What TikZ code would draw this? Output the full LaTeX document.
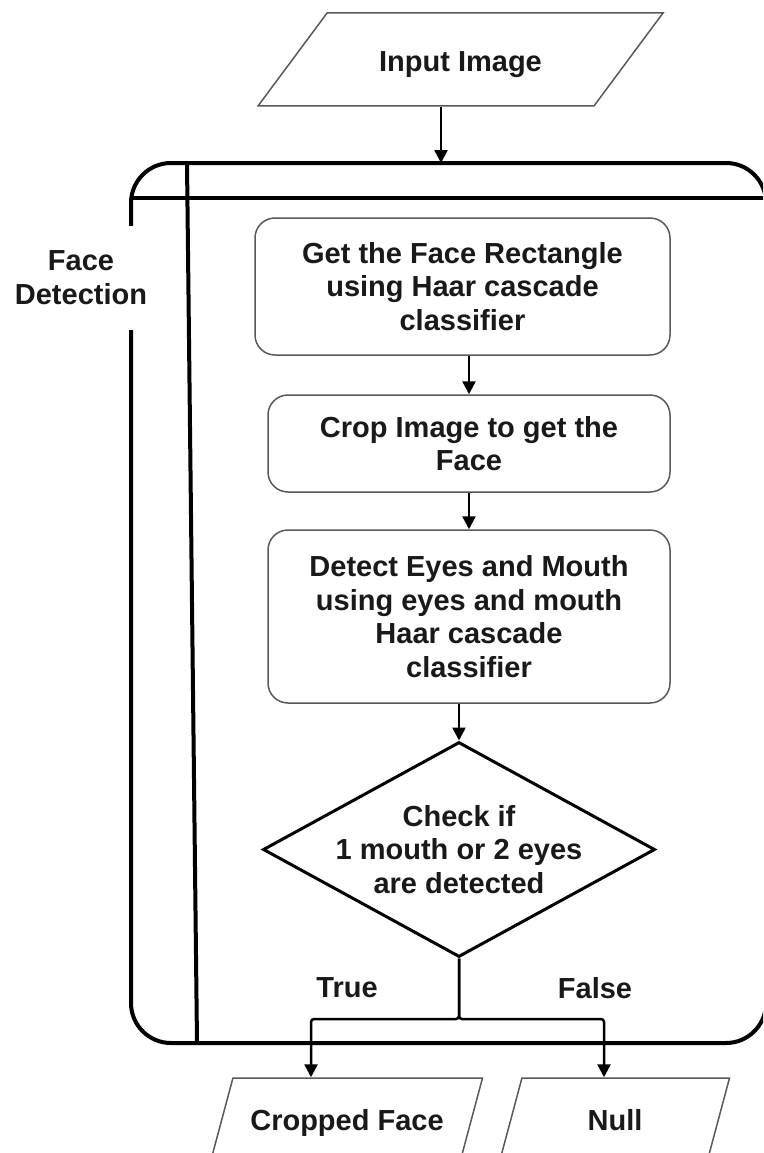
\documentclass[tikz,border=0pt]{standalone}
\usepackage{fontspec}
\setmainfont{Liberation Sans}
\usetikzlibrary{shapes.geometric,arrows.meta}

\begin{document}
\begin{tikzpicture}[x=1pt, y=-1pt,
    base/.style={font=\fontsize{29}{33.5}\selectfont\bfseries, align=center,
                 text=black!90},
    proc/.style={base, draw=black!65, fill=white, rounded corners=20pt,
                 line width=1.5pt, minimum width=402pt, inner sep=0pt},
    io/.style={base, trapezium, draw=black!65, fill=white, line width=1.5pt,
               trapezium stretches body, inner xsep=0pt,
               text height=26pt, text depth=1pt},
    decision/.style={base, diamond, draw=black, fill=white, line width=3pt,
                     aspect=1.82, inner sep=-6pt,
                     minimum width=392pt, minimum height=215pt},
    lane/.style={draw=black, line width=4pt, rounded corners=40pt},
    rule/.style={draw=black, line width=4pt},
    arr/.style={draw=black, line width=2.5pt, -{Triangle[length=13pt,width=13pt]}},
]
\useasboundingbox (0,0) rectangle (763,1153);
\clip (0,0) rectangle (763,1153);

% Swimlane
\coordinate (laneNW) at (131,163);
\coordinate (laneSE) at (766,1043);
\coordinate (head) at (131,198);
\coordinate (sepN) at (187,163);
\coordinate (sepS) at (197,1043);
\draw[lane] (laneNW) rectangle (laneSE);
\draw[rule] (head) -- (head -| laneSE);
\draw[rule] (sepN) -- (sepS);
\node[base, font=\fontsize{29}{34}\selectfont\bfseries, fill=white,
      minimum height=104pt, inner xsep=2pt] (lanelabel) at (81,278)
    {Face\\Detection};

% Ein- und Ausgaben
\node[io, trapezium left angle=53.4, trapezium right angle=126.6,
      inner ysep=33pt, minimum width=405pt] (input) at (460.5,59.5)
    {Input Image};
\node[io, trapezium left angle=75, trapezium right angle=105,
      inner ysep=26.5pt, minimum width=271pt] (face) at (347,1118)
    {Cropped Face};
\node[io, trapezium left angle=75, trapezium right angle=105,
      inner ysep=26.5pt, minimum width=229pt] (null) at (615,1118)
    {Null};

% Schritte
\node[proc, minimum width=415pt, minimum height=137pt] (rect) at (462.5,286.5)
    {Get the Face Rectangle\\using Haar cascade\\classifier};
\node[proc, minimum height=97pt] (crop) at (469,443.5)
    {Crop Image to get the\\Face};
\node[proc, minimum height=173pt] (eyes) at (469,616.5)
    {Detect Eyes and Mouth\\using eyes and mouth\\Haar cascade\\classifier};
\node[decision] (check) at (459,849.5)
    {Check if\\1 mouth or 2 eyes\\are detected};

\node[base] (yes) at (347,988) {True};
\node[base] (no) at (595,988) {False};

% Pfeile
\coordinate (inx) at (441,0);
\coordinate (fork) at (0,1019);
\coordinate (yesx) at (311,0);
\coordinate (nox) at (604,0);
\draw[arr] (input.south -| inx) -- (inx |- laneNW);
\draw[arr] (rect.south -| crop.north) -- (crop.north);
\draw[arr] (crop) -- (eyes);
\draw[arr] (eyes.south -| check.north) -- (check.north);
\draw[arr, rounded corners=3pt] (check.south) |- (yesx |- fork) -- (yesx |- face.north);
\draw[arr, rounded corners=3pt] (check.south) |- (nox |- fork) -- (nox |- null.north);

\end{tikzpicture}
\end{document}
